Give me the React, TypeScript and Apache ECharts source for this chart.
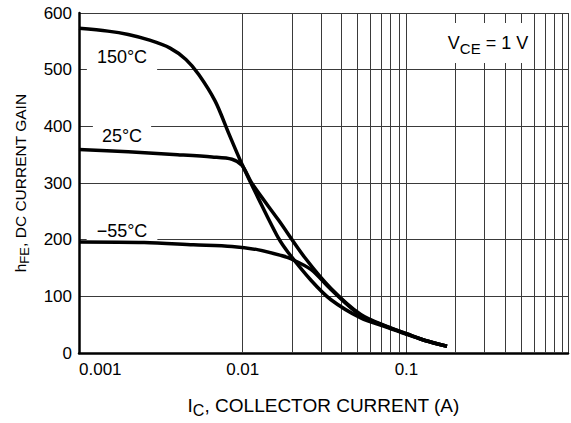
import React, { useEffect, useRef } from 'react';
import * as echarts from 'echarts';

// ---- data ----
const xTickLabels = ['0.001', '0.01', '0.1'];
const yTickValues = [0, 100, 200, 300, 400, 500, 600];
const minorGridCurrents = [
  0.002, 0.003, 0.004, 0.005, 0.006, 0.007, 0.008, 0.009,
  0.02, 0.03, 0.04, 0.05, 0.06, 0.07, 0.08, 0.09,
  0.2, 0.3, 0.4, 0.5, 0.6, 0.7, 0.8, 0.9,
];

const curveLabels = ['150°C', '25°C', '−55°C'];

const current150 = [0.001, 0.0015, 0.002, 0.0027, 0.0036, 0.0045, 0.0054, 0.0068, 0.0082, 0.0099, 0.0125, 0.0165, 0.019, 0.0262, 0.0346, 0.0526, 0.077, 0.1, 0.13, 0.177];
const gain150 = [573, 568, 562, 552, 538, 518, 491, 444, 388, 333, 272, 203, 177, 128, 94, 62, 45, 33, 22, 12];

const current25 = [0.001, 0.002, 0.004, 0.0065, 0.0086, 0.0099, 0.0114, 0.0165, 0.024, 0.0346, 0.0526, 0.077, 0.1, 0.13, 0.177];
const gain25 = [359, 355, 350, 346, 342, 331, 299, 235, 168, 114, 68, 46, 34, 22, 12];

const currentM55 = [0.001, 0.0025, 0.005, 0.0086, 0.0125, 0.0172, 0.0198, 0.0262, 0.0346, 0.0526, 0.077, 0.1, 0.13, 0.177];
const gainM55 = [196, 195, 191, 188, 182, 172, 166, 147, 112, 66, 46, 34, 22, 12];

const FONT = '"Liberation Sans", Arial, Helvetica, sans-serif';
const GRID = '#3a3a3a';

function pairs(xs: number[], ys: number[]) {
  return xs.map((x, i) => [x, ys[i]]);
}

export default function App() {
  const ref = useRef<HTMLDivElement>(null);

  useEffect(() => {
    const chart = echarts.init(ref.current as HTMLDivElement, null, { renderer: 'svg' });

    const curve = (name: string, data: number[][]) => ({
      name,
      type: 'line',
      data,
      showSymbol: false,
      symbol: 'none',
      smooth: 0.3,
      z: 10,
      silent: true,
      lineStyle: { color: '#000', width: 3.5 },
    });

    const labelBox = (text: string, x: number, y: number, pad: number[]) => ({
      type: 'text',
      x,
      y,
      z: 8,
      silent: true,
      style: {
        text,
        fontSize: 18,
        fontFamily: FONT,
        fill: '#000',
        align: 'center',
        verticalAlign: 'middle',
        backgroundColor: '#fff',
        padding: pad,
      },
    });

    chart.setOption({
      animation: false,
      backgroundColor: '#fff',
      grid: { left: 79, right: 0, top: 13, bottom: 64, containLabel: false },
      xAxis: {
        type: 'log',
        logBase: 10,
        min: 0.001,
        max: 0.97,
        axisLine: { show: true, lineStyle: { color: '#000', width: 2.5 } },
        axisTick: { show: false },
        splitLine: { show: true, lineStyle: { color: GRID, width: 1 } },
        axisLabel: {
          color: '#000',
          fontSize: 17,
          fontFamily: FONT,
          margin: 8,
          alignMinLabel: 'left',
          formatter: (v: number) => {
            const e = Math.log10(v);
            if (Math.abs(e - Math.round(e)) > 1e-6) return '';
            const idx = Math.round(e) + 3;
            return xTickLabels[idx] ?? '';
          },
        },
        name: '{m|I}{s|C}{m|, COLLECTOR CURRENT (A)}',
        nameLocation: 'middle',
        nameGap: 40,
        nameTextStyle: {
          rich: {
            m: { fontSize: 19, fontFamily: FONT, color: '#000' },
            s: { fontSize: 16, fontFamily: FONT, color: '#000', padding: [9, 0, 0, 0] },
          },
        },
      },
      yAxis: {
        type: 'value',
        min: yTickValues[0],
        max: yTickValues[yTickValues.length - 1],
        interval: 100,
        axisLine: { show: true, onZero: false, lineStyle: { color: '#000', width: 2.5 } },
        axisTick: { show: false },
        splitLine: { show: true, lineStyle: { color: GRID, width: 1 } },
        axisLabel: { color: '#000', fontSize: 17, fontFamily: FONT, margin: 7 },
        name: '{m|h}{s|FE}{m|, DC CURRENT GAIN}',
        nameLocation: 'middle',
        nameGap: 48,
        nameTextStyle: {
          rich: {
            m: { fontSize: 15.5, fontFamily: FONT, color: '#000' },
            s: { fontSize: 13, fontFamily: FONT, color: '#000', padding: [8, 0, 0, 0] },
          },
        },
      },
      series: [
        {
          name: 'grid',
          type: 'line',
          data: [],
          silent: true,
          markLine: {
            silent: true,
            z: 1,
            symbol: ['none', 'none'],
            label: { show: false },
            emphasis: { disabled: true },
            lineStyle: { color: GRID, width: 1, type: 'solid' },
            data: minorGridCurrents.map((v) => ({ xAxis: v })),
          },
        },
        curve(curveLabels[0], pairs(current150, gain150)),
        curve(curveLabels[1], pairs(current25, gain25)),
        curve(curveLabels[2], pairs(currentM55, gainM55)),
      ],
      graphic: {
        elements: [
          labelBox(curveLabels[0], 122, 57, [5, 10, 5, 10]),
          labelBox(curveLabels[1], 122, 136, [3, 9, 3, 9]),
          labelBox(curveLabels[2], 122, 231, [5, 10, 5, 10]),
          {
            type: 'text',
            x: 488,
            y: 43,
            z: 8,
            silent: true,
            style: {
              text: '{m|V}{s|CE}{m| = 1 V}',
              align: 'center',
              verticalAlign: 'middle',
              backgroundColor: '#fff',
              padding: [7, 5, 7, 5],
              rich: {
                m: { fontSize: 18, fontFamily: FONT, fill: '#000' },
                s: { fontSize: 15, fontFamily: FONT, fill: '#000', padding: [11, 0, 0, 0] },
              },
            },
          },
        ],
      },
    });

    return () => chart.dispose();
  }, []);

  return (
    <div
      ref={ref}
      style={{ position: 'fixed', left: 0, top: 0, width: 571, height: 423 }}
    />
  );
}
